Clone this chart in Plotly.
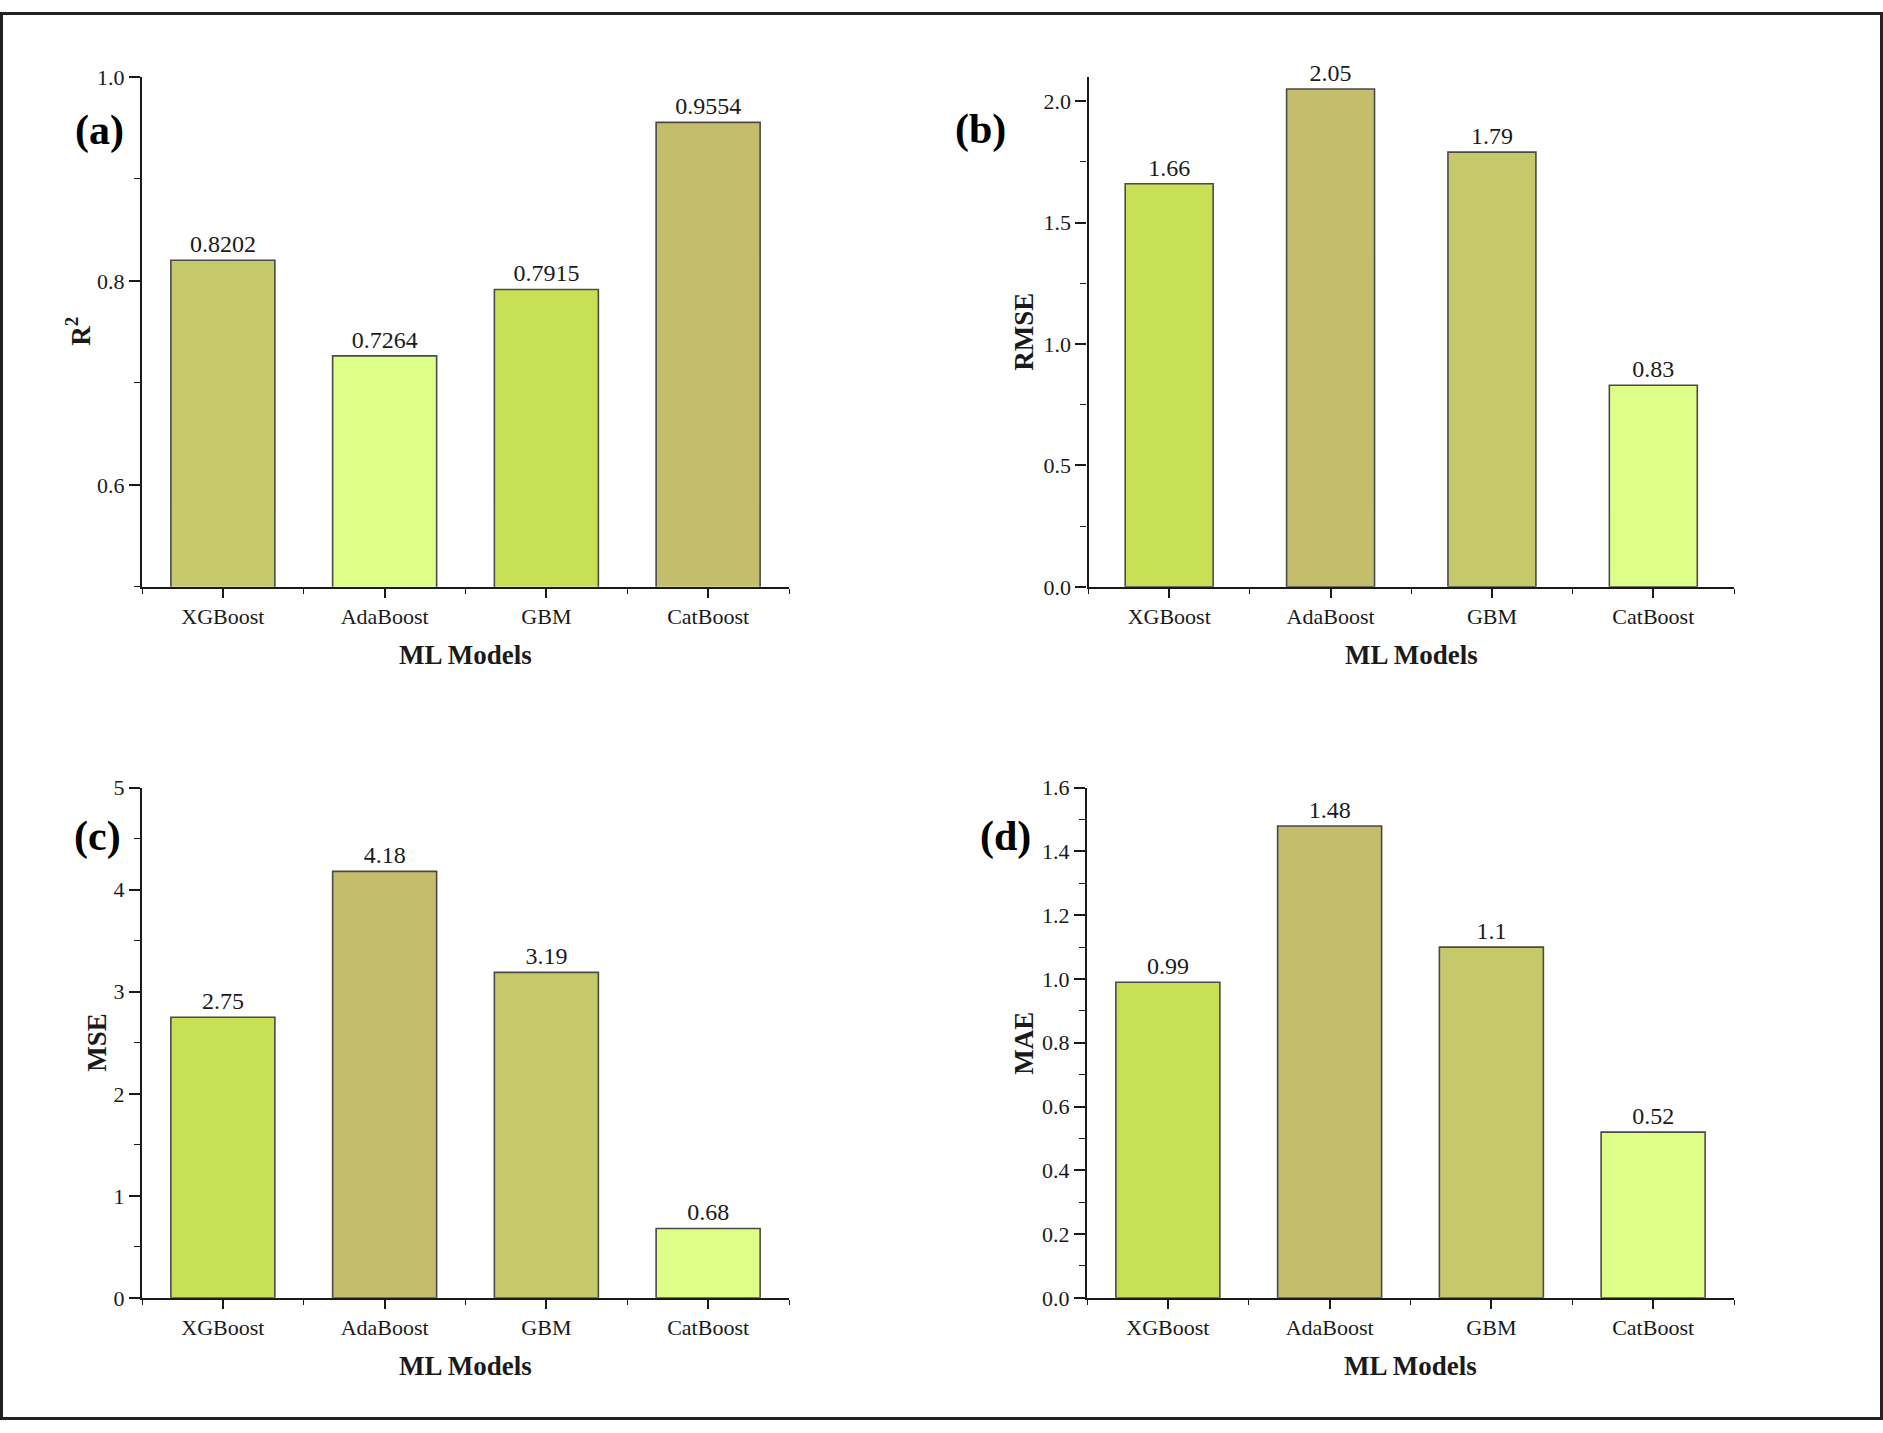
import plotly.graph_objects as go

# ---------------- data ----------------
models = ["XGBoost", "AdaBoost", "GBM", "CatBoost"]
r2_vals = [0.8202, 0.7264, 0.7915, 0.9554]
rmse_vals = [1.66, 2.05, 1.79, 0.83]
mse_vals = [2.75, 4.18, 3.19, 0.68]
mae_vals = [0.99, 1.48, 1.1, 0.52]

# colours
OLIVE = "#C4BD6C"
OLIVE_G = "#C6C96A"
YGREEN = "#C8E055"
LIGHT = "#DDFF88"

colors_a = [OLIVE_G, LIGHT, YGREEN, OLIVE]
colors_b = [YGREEN, OLIVE, OLIVE_G, LIGHT]
colors_c = [YGREEN, OLIVE, OLIVE_G, LIGHT]
colors_d = [YGREEN, OLIVE, OLIVE_G, LIGHT]

W, H = 1883, 1433
FONT = "Liberation Serif, Times New Roman, serif"
INK = "#1a1a1a"


def fx(px):
    return px / W


def fy(py):
    return 1 - py / H


panels = [
    dict(key="", vals=r2_vals, colors=colors_a, xd=(142, 789), yd=(66, 585),
         yr=[0.5, 1.0], dtick=0.2, minor=0.1, fmt=".1f", width=0.643,
         ytitle="R<sup>2</sup>", ytx=78, label="(a)", lab=(99, 121)),
    dict(key="2", vals=rmse_vals, colors=colors_b, xd=(1088.5, 1734), yd=(66, 585),
         yr=[0, 2.1], dtick=0.5, minor=0.25, fmt=".1f", width=0.545,
         ytitle="RMSE", ytx=1024, label="(b)", lab=(981, 120)),
    dict(key="3", vals=mse_vals, colors=colors_c, xd=(142, 789), yd=(789.5, 1308.7),
         yr=[0, 5], dtick=1, minor=0.5, fmt="d", width=0.643,
         ytitle="MSE", ytx=97, label="(c)", lab=(97, 839)),
    dict(key="4", vals=mae_vals, colors=colors_d, xd=(1087, 1734), yd=(789.5, 1308.7),
         yr=[0, 1.6], dtick=0.2, minor=0.1, fmt=".1f", width=0.643,
         ytitle="MAE", ytx=1024, label="(d)", lab=(1006, 839)),
]

fig = go.Figure()
annotations = []
layout_axes = {}

xpos = list(range(len(models)))

for p in panels:
    k = p["key"]
    fig.add_trace(go.Bar(
        x=xpos, y=p["vals"],
        xaxis="x" + k, yaxis="y" + k,
        width=p["width"],
        marker=dict(color=p["colors"], line=dict(color="#4a4a4a", width=1.6)),
        text=[str(v) for v in p["vals"]],
        textposition="outside",
        textfont=dict(family=FONT, size=24, color=INK),
        constraintext="none",
        cliponaxis=False,
        showlegend=False,
        hoverinfo="skip",
    ))
    xa = dict(
        domain=[fx(p["xd"][0]), fx(p["xd"][1])],
        anchor="y" + k,
        range=[-0.5, 3.5],
        tickmode="array", tickvals=xpos, ticktext=models,
        ticks="outside", ticklen=9, tickwidth=1.6, tickcolor=INK,
        minor=dict(tickmode="array", tickvals=[-0.5, 0.5, 1.5, 2.5, 3.5],
                   ticks="outside", ticklen=5, tickwidth=1.4, tickcolor=INK),
        showline=True, linecolor=INK, linewidth=2.2,
        showgrid=False, zeroline=False,
        tickfont=dict(family=FONT, size=22, color=INK),
        fixedrange=True,
    )
    ya = dict(
        domain=[fy(p["yd"][1]), fy(p["yd"][0])],
        anchor="x" + k,
        range=p["yr"],
        tick0=0, dtick=p["dtick"], tickformat=p["fmt"],
        ticks="outside", ticklen=11, tickwidth=1.6, tickcolor=INK,
        minor=dict(tick0=0, dtick=p["minor"], ticks="outside", ticklen=6,
                   tickwidth=1.4, tickcolor=INK),
        showline=True, linecolor=INK, linewidth=2.2,
        showgrid=False, zeroline=False,
        tickfont=dict(family=FONT, size=22, color=INK),
        fixedrange=True,
    )
    layout_axes["xaxis" + k] = xa
    layout_axes["yaxis" + k] = ya

    # panel label
    annotations.append(dict(
        text="<b>" + p["label"] + "</b>", xref="paper", yref="paper",
        x=fx(p["lab"][0]), y=fy(p["lab"][1]), xanchor="center", yanchor="middle",
        showarrow=False, font=dict(family=FONT, size=42, color="#000")))
    # y title
    annotations.append(dict(
        text="<b>" + p["ytitle"] + "</b>", xref="paper", yref="paper",
        x=fx(p["ytx"]), y=fy((p["yd"][0] + p["yd"][1]) / 2),
        xanchor="center", yanchor="middle", textangle=-90,
        showarrow=False, font=dict(family=FONT, size=27, color=INK)))
    # x title
    annotations.append(dict(
        text="<b>ML Models</b>", xref="paper", yref="paper",
        x=fx((p["xd"][0] + p["xd"][1]) / 2), y=fy(p["yd"][1] + 69),
        xanchor="center", yanchor="middle",
        showarrow=False, font=dict(family=FONT, size=27, color=INK)))

fig.update_layout(
    autosize=True,
    margin=dict(l=0, r=0, t=0, b=0, pad=0),
    paper_bgcolor="white", plot_bgcolor="white",
    annotations=annotations,
    shapes=[dict(type="rect", xref="paper", yref="paper", x0=0.0008, y0=0.001,
                 x1=0.9992, y1=0.999,
                 line=dict(color="#222", width=3), fillcolor="rgba(0,0,0,0)")],
    **layout_axes,
)

fig.write_html(
    "out.html",
    config={"displayModeBar": False, "responsive": True},
    default_width="100vw",
    default_height="100vh",
    post_script=(
        "document.documentElement.style.margin='0';"
        "document.body.style.margin='0';"
        "document.body.style.overflow='hidden';"
        "Plotly.Plots.resize(document.getElementById('{plot_id}'));"
    ),
)
